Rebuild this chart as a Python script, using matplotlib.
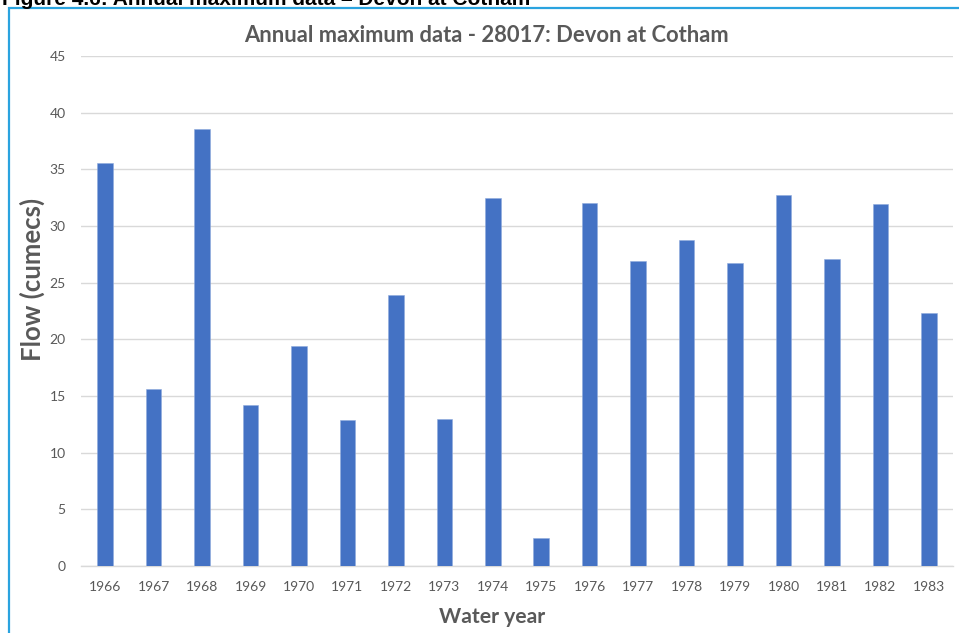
import matplotlib
matplotlib.use("Agg")
import matplotlib.pyplot as plt
from matplotlib.patches import Rectangle

years = ["1966", "1967", "1968", "1969", "1970", "1971", "1972", "1973", "1974",
         "1975", "1976", "1977", "1978", "1979", "1980", "1981", "1982", "1983"]
flows = [35.6, 15.6, 38.6, 14.2, 19.4, 12.9, 23.9, 13.0, 32.5,
         2.5, 32.0, 26.9, 28.8, 26.7, 32.7, 27.1, 31.9, 22.3]
yticks = [0, 5, 10, 15, 20, 25, 30, 35, 40, 45]

W, H = 959, 633
grey = "#595959"
fig = plt.figure(figsize=(W / 100, H / 100), dpi=100)
ax = fig.add_axes([81 / W, 1 - 566 / H, (953 - 81) / W, (566 - 56) / H])

x = range(len(years))
ax.bar(x, flows, width=0.32, color="#4472C4", edgecolor="#8FAADC", linewidth=0.4, zorder=3)

ax.set_xlim(-0.5, len(years) - 0.5)
ax.set_ylim(0, 45)
ax.set_yticks(yticks)
ax.set_xticks(list(x))
ax.set_xticklabels(years)
ax.grid(axis="y", color="#D9D9D9", linewidth=1.0, zorder=0)
for side in ["left", "right", "top"]:
    ax.spines[side].set_visible(False)
ax.spines["bottom"].set_color("#D9D9D9")
ax.spines["bottom"].set_linewidth(1.0)
ax.tick_params(axis="both", length=0, colors=grey, labelsize=10)
ax.tick_params(axis="y", pad=11)
ax.tick_params(axis="x", pad=11)
for lab in ax.get_xticklabels() + ax.get_yticklabels():
    lab.set_family("Lato")

fig.text(486 / W, 1 - 35 / H, "Annual maximum data - 28017: Devon at Cotham",
         ha="center", va="center", fontsize=15.8, fontweight="bold", color=grey, family="Lato")
fig.text(32 / W, 1 - 279 / H, "Flow (cumecs)", rotation=90, ha="center", va="center",
         fontsize=18.5, fontweight="bold", color=grey, family="Lato")
fig.text(492 / W, 1 - 617 / H, "Water year", ha="center", va="center",
         fontsize=15.2, fontweight="bold", color=grey, family="Lato")

# caption above the chart frame, partly cut off at the top edge
fig.text(2 / W, 1 - 5 / H, "Figure 4.6: Annual maximum data \u2013 Devon at Cotham",
         ha="left", va="baseline", fontsize=15, fontweight="bold", color="black",
         family="Liberation Sans")

# chart frame
fig.patches.append(Rectangle((8.5 / W, -0.1), 1.2, 1 - 8.5 / H + 0.1, transform=fig.transFigure,
                             fill=False, edgecolor="#2AA3DF", linewidth=1.6))

fig.savefig("out.png", dpi=100)
